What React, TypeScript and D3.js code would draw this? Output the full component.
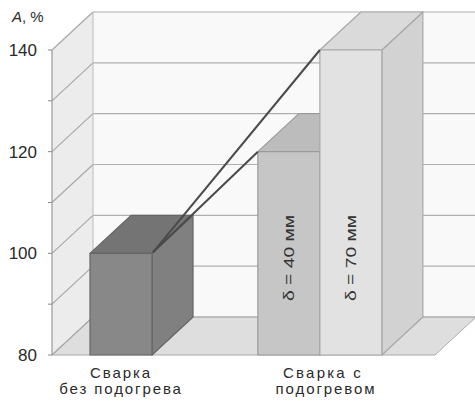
import React from "react";
import * as d3 from "d3";

// ---- data ----
const categoryLines: string[][] = [
  ["Сварка", "без подогрева"],
  ["Сварка с", "подогревом"],
];
const barLabels = ["", "δ = 40 мм", "δ = 70 мм"];
const barValues = [100, 120, 140];
const yTickLabels = [80, 100, 120, 140];
const gridValues = [80, 90, 100, 110, 120, 130, 140];
const yTitle = "A";

// ---- layout / style ----
const W = 475;
const H = 406;
const DX = 41;
const DY = -38;
const x0 = 52;
const xEnd = 435;
const barSlots = [0.613, 3.32, 4.32]; // in units of bar width
const barWidthUnits = 1;
const fronts = ["#888888", "#c6c6c6", "#e2e2e2"];
const tops = ["#747474", "#bcbcbc", "#dadada"];
const sides = ["#808080", "#bebebe", "#d2d2d2"];
const edges = ["#666666", "#9a9a9a", "#a8a8a8"];

export default function App() {
  const y = d3.scaleLinear().domain([80, 140]).range([355, 50]);
  const x = d3.scaleLinear().domain([0, 6.177]).range([x0, xEnd]);
  const yBase = y(80);
  const font = "'Liberation Sans', Arial, Helvetica, sans-serif";

  const bars = barValues.map((v, i) => {
    const xa = x(barSlots[i]);
    const xb = x(barSlots[i] + barWidthUnits);
    const yt = y(v);
    return { v, i, xa, xb, yt };
  });

  const pts = (arr: number[][]) => arr.map((p) => p.join(",")).join(" ");

  const b1 = bars[0];
  const lineStart = [b1.xb + 1, b1.yt - 1];

  return (
    <svg
      width={W}
      height={H}
      style={{ position: "absolute", left: 0, top: 0, background: "#fff" }}
    >
      {/* back wall */}
      <rect
        x={x0 + DX}
        y={y(140) + DY}
        width={W - (x0 + DX) + 5}
        height={yBase - y(140)}
        fill="#f9f9f9"
      />
      {/* side wall */}
      <polygon
        points={pts([
          [x0, y(140)],
          [x0 + DX, y(140) + DY],
          [x0 + DX, yBase + DY],
          [x0, yBase],
        ])}
        fill="#ececec"
      />
      {/* floor */}
      <polygon
        points={pts([
          [x0, yBase],
          [xEnd, yBase],
          [xEnd + DX, yBase + DY],
          [x0 + DX, yBase + DY],
        ])}
        fill="#dedede"
        stroke="#aaaaaa"
        strokeWidth={1}
      />
      {/* gridlines */}
      {gridValues.map((g) => (
        <g key={g}>
          <line
            x1={x0}
            y1={y(g)}
            x2={x0 + DX}
            y2={y(g) + DY}
            stroke="#a8a8a8"
            strokeWidth={1.2}
          />
          <line
            x1={x0 + DX}
            y1={y(g) + DY}
            x2={W + 5}
            y2={y(g) + DY}
            stroke="#b0b0b0"
            strokeWidth={1.2}
          />
          <line x1={x0 - 4} y1={y(g)} x2={x0} y2={y(g)} stroke="#888" strokeWidth={1} />
        </g>
      ))}
      <line x1={x0 + DX} y1={y(140) + DY} x2={x0 + DX} y2={yBase + DY} stroke="#bbbbbb" strokeWidth={1} />
      <line x1={x0} y1={y(140)} x2={x0} y2={yBase} stroke="#999" strokeWidth={1.2} />

      {/* bars */}
      {bars.map((b) => (
        <g key={b.i} stroke={edges[b.i]} strokeWidth={1.2} strokeLinejoin="round">
          <polygon
            points={pts([
              [b.xb, b.yt],
              [b.xb + DX, b.yt + DY],
              [b.xb + DX, yBase + DY],
              [b.xb, yBase],
            ])}
            fill={sides[b.i]}
          />
          <polygon
            points={pts([
              [b.xa, b.yt],
              [b.xb, b.yt],
              [b.xb + DX, b.yt + DY],
              [b.xa + DX, b.yt + DY],
            ])}
            fill={tops[b.i]}
          />
          <rect x={b.xa} y={b.yt} width={b.xb - b.xa} height={yBase - b.yt} fill={fronts[b.i]} />
        </g>
      ))}

      {/* bar texts */}
      {bars
        .filter((b) => barLabels[b.i])
        .map((b) => {
          const cx = (b.xa + b.xb) / 2 + 5;
          const cy = 258;
          return (
            <text
              key={"t" + b.i}
              transform={`translate(${cx},${cy}) rotate(-90)`}
              textAnchor="middle"
              fontFamily={font}
              fontSize={15}
              fill="#333"
              textLength={86}
              lengthAdjust="spacingAndGlyphs"
            >
              {barLabels[b.i]}
            </text>
          );
        })}

      {/* connecting lines */}
      {bars.slice(1).map((b) => (
        <line
          key={"l" + b.i}
          x1={lineStart[0]}
          y1={lineStart[1]}
          x2={b.xa}
          y2={b.yt}
          stroke="#4a4a4a"
          strokeWidth={2}
        />
      ))}

      {/* y tick labels */}
      {yTickLabels.map((t) => (
        <text
          key={"y" + t}
          x={37}
          y={y(t)}
          dy="0.36em"
          textAnchor="end"
          fontFamily={font}
          fontSize={17}
          fill="#2a2a2a"
        >
          {t}
        </text>
      ))}
      <text x={12} y={22} fontFamily={font} fontSize={15} fill="#2a2a2a">
        <tspan fontStyle="italic">{yTitle}</tspan>
        <tspan>, %</tspan>
      </text>

      {/* category labels */}
      <g fontFamily={font} fontSize={15} fill="#2a2a2a" textAnchor="middle">
        <text x={121} y={378} letterSpacing={1.9}>
          {categoryLines[0][0]}
        </text>
        <text x={121} y={394} letterSpacing={1.9}>
          {categoryLines[0][1]}
        </text>
        <text x={323} y={378} letterSpacing={2.2}>
          {categoryLines[1][0]}
        </text>
        <text x={326} y={394} letterSpacing={1.9}>
          {categoryLines[1][1]}
        </text>
      </g>
    </svg>
  );
}
